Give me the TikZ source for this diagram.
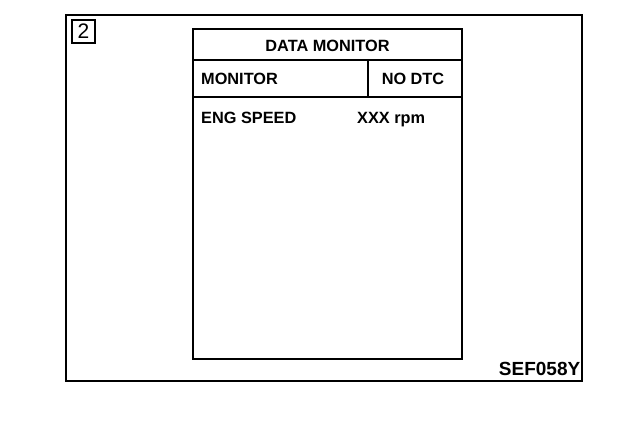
\documentclass[tikz,border=0pt]{standalone}
\usepackage{fontspec}
\setmainfont{Liberation Sans}
\usepackage{tikz}
\usetikzlibrary{positioning}

\begin{document}
\begin{tikzpicture}[x=1pt, y=-1pt,
    screentext/.style={font=\fontsize{16.3}{16.3}\selectfont\bfseries, inner sep=0pt},
    screenline/.style={line width=1.5pt},
    badge/.style={draw, line width=1.8pt, minimum size=23pt, inner sep=0pt, font=\fontsize{21}{21}\selectfont}]
                \useasboundingbox (0,0) rectangle (624,434);
                
                % Outer frame
                \draw[line width=2pt] (66,15) rectangle (582,381);
                \node[badge] (step2) at (83.5,31.5) {2};
                
                % Monitor screen
                \draw[line width=2.5pt] (193,29) rectangle (462,359);
                \draw[screenline] (193,60) -- (462,60);
                \draw[screenline] (193,97) -- (462,97);
                \draw[screenline] (368,60) -- (368,97);
                
                % Screen texts
                \node[screentext, anchor=base] (title) at (327.5,51) {DATA MONITOR};
                \node[screentext, anchor=base west] (mode) at (201,84.5) {MONITOR};
                \node[screentext, anchor=base] (dtc) at (413,84.5) {NO DTC};
                \node[screentext, anchor=base west] (engspeed) at (201,123.5) {ENG SPEED};
                \node[screentext, anchor=base west] (rpm) at (357,123.5) {XXX rpm};
                
                % Figure code
                \node[font=\fontsize{19}{19}\selectfont\bfseries, inner sep=0pt, anchor=base east] (figcode) at (580.5,375) {SEF058Y};
            \end{tikzpicture}
\end{document}
